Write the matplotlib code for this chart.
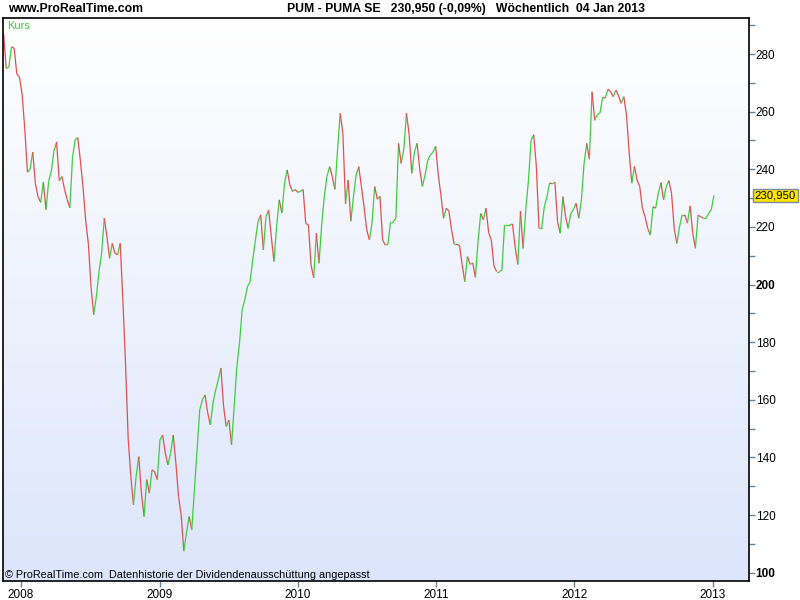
import numpy as np
import pandas as pd
import matplotlib
matplotlib.use("Agg")
import matplotlib.pyplot as plt
import matplotlib.dates as mdates
import matplotlib.transforms as mtransforms
from matplotlib.collections import LineCollection

# --------------------------------
# DATEN
# --------------------------------

letzte_woche = "2013-01-04"

# Wöchentlicher Schlusskurs PUM
kurs = [
    287, 275, 275.5, 282.5, 282, 273, 272, 266, 254, 239,
    240, 246, 235, 230.5, 228.5, 235.5, 226, 235.8, 239.3, 246.3,
    249.5, 236, 237.5, 233, 229.5, 226.6, 244, 250.3, 251, 242.8,
    233.5, 222, 214, 199, 189.5, 195.8, 204.5, 210.9, 223, 216.6,
    209.1, 214.3, 210.9, 210.3, 214.3, 194.7, 172.8, 146.7, 133.4, 123.6,
    133.4, 140.3, 127.6, 119.5, 132.3, 127.6, 135.7, 135, 132.3, 146.1,
    147.8, 141.6, 137.4, 141.4, 147.8, 138, 126.5, 120, 107.5, 113.8,
    119.5, 114.9, 128.8, 142.6, 156.5, 160, 161.7, 155.5, 151.3, 158.9,
    163.4, 166.9, 171, 157.7, 150.7, 153, 144.4, 157.7, 171.5, 179.6,
    191.2, 194.7, 199.3, 201, 208.5, 215.5, 221.8, 224.2, 212, 223.6,
    225.9, 216.6, 208, 220.1, 229.4, 224.8, 235.2, 239.8, 234.6, 232.3,
    233, 232, 232.3, 233, 221.2, 220.7, 206.8, 202.3, 217.8, 207.4,
    220.7, 230.5, 237.5, 240.9, 237.5, 233, 246.7, 259.4, 252.5, 228,
    236.3, 222, 230.5, 238, 240.9, 234, 227, 219, 215.5, 221.3,
    234, 229.6, 230.6, 215.5, 213.7, 214, 221.8, 221.8, 223, 249,
    242, 247, 259.5, 252, 238.6, 246, 249, 240, 234, 238,
    243, 245, 246, 248, 238, 231, 223, 226.5, 225.5, 219,
    214, 214, 213.5, 207, 201, 209.7, 207, 207.5, 202.5, 215,
    224.7, 222.5, 226.5, 218, 215.5, 206.5, 204.5, 204.5, 205, 220.7,
    220.7, 220.7, 221, 213, 207, 225.5, 212.5, 226, 236, 250,
    252, 241, 219.5, 219.5, 227, 230.5, 235.2, 235, 235.5, 221.8,
    217.8, 230.5, 223.6, 219.5, 224.7, 226, 228.2, 223, 229.4, 242,
    249, 243.5, 266.9, 257, 259, 259.5, 265, 264.7, 267.8, 266.9,
    265.2, 267.5, 265.5, 262.9, 265.2, 258.8, 246, 235.2, 241, 236.3,
    234, 226.5, 223.6, 219.5, 217.2, 227, 226.5, 231.6, 235.4, 229.4,
    234, 236.1, 231.6, 219.5, 214.3, 220, 224.2, 224.2, 221.3, 227.3,
    217.8, 212.6, 224, 223.6, 223, 223, 224.7, 226, 230.95,
]

jahre = ["2008", "2009", "2010", "2011", "2012", "2013"]
y_werte = [100, 120, 140, 160, 180, 200, 220, 240, 260, 280]
y_fett = [100, 200]

letzter_kurs = "230,950"

# --------------------------------
# FARBEN
# --------------------------------

GRUEN = "#3fcc3f"
ROT = "#e05050"
TICK_FARBE = "#6a8296"

plt.rcParams["font.family"] = ["Liberation Sans", "DejaVu Sans"]

wochen = pd.date_range(end=letzte_woche, periods=len(kurs), freq="W-FRI")
x = mdates.date2num(wochen)
y = np.array(kurs)

# --------------------------------
# FIGUR
# --------------------------------

fig = plt.figure(figsize=(8, 6), dpi=100)
ax = fig.add_axes([0.004, 0.032, 0.932, 0.938])

# Hintergrund-Verlauf (oben weiß, unten hellblau)
verlauf = np.linspace(0, 1, 256).reshape(-1, 1)
oben = np.array([1.0, 1.0, 1.0])
unten = np.array([220, 229, 251]) / 255
bild = oben + (unten - oben) * verlauf[:, :, None]
ax.imshow(
    bild,
    extent=[0, 1, 0, 1],
    transform=ax.transAxes,
    aspect="auto",
    zorder=0,
)

# Linie: grün bei steigendem, rot bei fallendem Kurs
punkte = np.column_stack([x, y])
segmente = np.stack([punkte[:-1], punkte[1:]], axis=1)
farben = [GRUEN if b >= a else ROT for a, b in zip(y[:-1], y[1:])]
ax.add_collection(
    LineCollection(segmente, colors=farben, linewidths=0.9, zorder=2)
)

ax.set_xlim(x[0] - 1, mdates.date2num(pd.Timestamp("2013-04-06")))
ax.set_ylim(97.2, 292.5)

# --------------------------------
# ACHSEN
# --------------------------------

for s in ax.spines.values():
    s.set_color("black")
    s.set_linewidth(1.2)

ax.xaxis.set_major_locator(mdates.YearLocator())
ax.xaxis.set_major_formatter(mdates.DateFormatter("%Y"))
ax.tick_params(
    axis="x", direction="out", length=4, width=1,
    color=TICK_FARBE, labelsize=8.5, pad=2,
)
for lbl in ax.get_xticklabels():
    lbl.set_x(lbl.get_position()[0])

ax.yaxis.tick_right()
ax.set_yticks(y_werte)
ax.set_yticks([w + 10 for w in y_werte], minor=True)
ax.set_yticklabels([str(w) for w in y_werte])
for lbl, w in zip(ax.get_yticklabels(), y_werte):
    if w in y_fett:
        lbl.set_fontweight("bold")
        lbl.set_fontsize(9.5)
ax.tick_params(
    axis="y", which="both", direction="out", length=4, width=1,
    color=TICK_FARBE, labelsize=8.5, pad=1,
)

# --------------------------------
# TEXTE
# --------------------------------

fig.text(
    8 / 800, 1 - 9 / 600, "www.ProRealTime.com",
    fontsize=8.8, fontweight="bold", va="center", ha="left",
)
fig.text(
    466 / 800, 1 - 9 / 600,
    "PUM - PUMA SE   230,950 (-0,09%)   Wöchentlich  04 Jan 2013",
    fontsize=8.8, fontweight="bold", va="center", ha="center",
)

ax.text(
    0.005, 0.986, "Kurs", transform=ax.transAxes,
    color=GRUEN, fontsize=8, va="center", ha="left",
)
ax.text(
    0.002, 0.011,
    "© ProRealTime.com  Datenhistorie der Dividendenausschüttung angepasst",
    transform=ax.transAxes, fontsize=7.8, va="center", ha="left",
)

# Kurs-Marke rechts
trans = mtransforms.blended_transform_factory(ax.transAxes, ax.transData)
ax.text(
    1.008, kurs[-1], letzter_kurs, transform=trans,
    fontsize=8.2, va="center", ha="left", clip_on=False,
    bbox=dict(boxstyle="square,pad=0.15", fc="#ffe400", ec="#7a8a9a", lw=1),
)

fig.savefig("out.png", dpi=100)
